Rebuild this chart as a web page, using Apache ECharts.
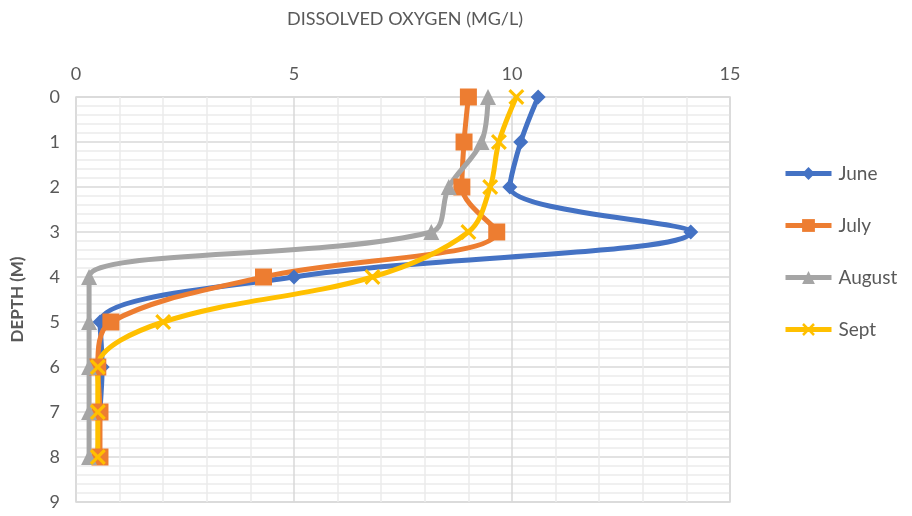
<!DOCTYPE html>
<html>
<head>
<meta charset="utf-8">
<script src="https://cdn.jsdelivr.net/npm/echarts@6/dist/echarts.min.js"></script>
<style>html,body{margin:0;padding:0;background:#fff}#c{width:912px;height:516px}</style>
</head>
<body>
<div id="c"></div>
<script>
const depths = [0, 1, 2, 3, 4, 5, 6, 7, 8];
const seriesNames = ['June', 'July', 'August', 'Sept'];
const june   = [10.6, 10.2, 9.95, 14.1, 5.0, 0.55, 0.6, 0.55, 0.5];
const july   = [9.0, 8.9, 8.85, 9.65, 4.3, 0.8, 0.5, 0.55, 0.55];
const august = [9.45, 9.3, 8.55, 8.15, 0.3, 0.3, 0.3, 0.3, 0.3];
const sept   = [10.1, 9.7, 9.5, 9.0, 6.8, 2.0, 0.5, 0.5, 0.5];
const xTitle = 'DISSOLVED OXYGEN (MG/L)';
const yTitle = 'DEPTH (M)';

const colors = ['#4472C4', '#ED7D31', '#A5A5A5', '#FFC000'];
const xSym = 'path://M0,1.4L1.4,0L5,3.6L8.6,0L10,1.4L6.4,5L10,8.6L8.6,10L5,6.4L1.4,10L0,8.6L3.6,5Z';
const symbols = ['diamond', 'rect', 'triangle', xSym];
const sizes = [15, 17, 16, 16];
const values = [june, july, august, sept];
const FONT = 'Lato, "Open Sans", sans-serif';

const chart = echarts.init(document.getElementById('c'));
chart.setOption({
  animation: false,
  color: colors,
  title: {
    text: xTitle, left: 400, top: 5, textAlign: 'center',
    textStyle: { fontFamily: FONT, fontSize: 18, fontWeight: 'normal', color: '#595959' }
  },
  legend: {
    orient: 'vertical', left: 778, top: 159, itemGap: 33, itemWidth: 46, itemHeight: 16,
    lineStyle: { width: 5 },
    textStyle: { fontFamily: FONT, fontSize: 19, color: '#595959', padding: [0, 0, 0, 2] },
    data: seriesNames
  },
  grid: { left: 76, right: 182, top: 97, bottom: 14, show: true, borderColor: '#d9d9d9', borderWidth: 1.5 },
  xAxis: {
    type: 'value', position: 'top', min: 0, max: 15, interval: 5,
    axisLine: { show: false }, axisTick: { show: false },
    axisLabel: { fontFamily: FONT, fontSize: 18, color: '#595959', margin: 14 },
    splitLine: { lineStyle: { color: '#d9d9d9', width: 1.5 } },
    minorTick: { show: false, splitNumber: 5 },
    minorSplitLine: { show: true, lineStyle: { color: '#ececec', width: 1.5 } }
  },
  yAxis: {
    type: 'value', inverse: true, min: 0, max: 9, interval: 1,
    name: yTitle, nameLocation: 'middle', nameGap: 50, nameRotate: 90,
    nameTextStyle: { fontFamily: FONT, fontSize: 17, fontWeight: 'bold', color: '#595959' },
    axisLine: { show: false }, axisTick: { show: false },
    axisLabel: { fontFamily: FONT, fontSize: 18, color: '#595959', margin: 16 },
    splitLine: { lineStyle: { color: '#d9d9d9', width: 1.5 } },
    minorTick: { show: false, splitNumber: 5 },
    minorSplitLine: { show: true, lineStyle: { color: '#ececec', width: 1.5 } }
  },
  series: seriesNames.map((n, i) => ({
    name: n, type: 'line', smooth: 0.35,
    symbol: symbols[i], symbolSize: sizes[i], showAllSymbol: true,
    lineStyle: { width: 5, color: colors[i] },
    itemStyle: { color: colors[i], borderWidth: 0 },
    data: depths.map((d, k) => [values[i][k], d])
  }))
});
</script>
</body>
</html>
